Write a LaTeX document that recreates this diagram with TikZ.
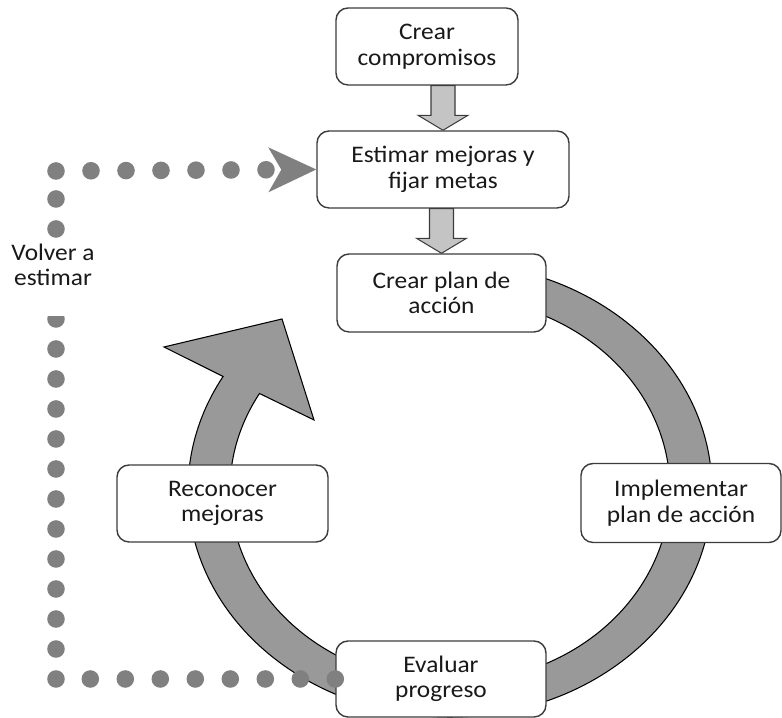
\documentclass[tikz,border=0pt]{standalone}
\usepackage{fontspec}
\setmainfont{Carlito}[FakeStretch=1.07]
\usetikzlibrary{calc,arrows.meta}
\definecolor{ringgray}{HTML}{999999}
\definecolor{blockgray}{HTML}{C4C4C4}
\definecolor{dotgray}{HTML}{808080}
\definecolor{edgegray}{HTML}{3C3C3C}
\tikzset{
  stepbox/.style={draw=edgegray, line width=0.8pt, rounded corners=0.24cm, fill=white,
    align=center, inner sep=2pt, text=black!90,
    font=\fontsize{13.5pt}{14.5pt}\selectfont},
  ring/.style={fill=ringgray, draw=black, line width=0.6pt, line join=miter},
  blockarrow/.style={fill=blockgray, draw=edgegray, line width=0.6pt},
  dotline/.style={dotgray, line width=10pt, line cap=round},
}
\begin{document}
\begin{tikzpicture}[>=stealth, scale=1.0]
    \useasboundingbox (0,0) rectangle (15.64,14.36);
    % ring arrow behind the boxes
    \coordinate (hub) at (9,4.56);
    \draw[ring] ($(hub)+(90:5.24 and 4.54)$) arc[start angle=90, end angle=-210, x radius=5.24, y radius=4.54]
        -- (3.28,7.42) -- (5.64,7.98) -- (6.28,5.96)
        -- ($(hub)+(150:4.40 and 3.86)$) arc[start angle=-210, end angle=90, x radius=4.40, y radius=3.86] -- cycle;
    % boxes
    \node[stepbox, minimum width=3.64cm, minimum height=1.54cm] (comp) at (8.54,13.43) {Crear\\compromisos};
    \node[stepbox, minimum width=5.04cm, minimum height=1.54cm] (esti) at (8.86,10.97) {Estimar mejoras y\\fijar metas};
    \node[stepbox, minimum width=4.18cm, minimum height=1.56cm] (plan) at (8.83,8.50) {Crear plan de\\acción};
    \node[stepbox, minimum width=4.00cm, minimum height=1.58cm] (impl) at (13.62,4.30) {Implementar\\plan de acción};
    \node[stepbox, minimum width=4.22cm, minimum height=1.54cm] (reco) at (4.45,4.29) {Reconocer\\mejoras};
    \node[stepbox, minimum width=4.20cm, minimum height=1.52cm] (eval) at (8.82,0.78) {Evaluar\\progreso};
    % block arrows down
    \foreach \a/\b in {comp/esti, esti/plan}
        {
            \draw[blockarrow] ($(\a.south -| \b.north)+(-0.24,0)$) -- ($(\b.north)+(-0.24,0.3)$)
                -- ($(\b.north)+(-0.5,0.3)$) -- (\b.north) -- ($(\b.north)+(0.5,0.3)$)
                -- ($(\b.north)+(0.24,0.3)$) -- ($(\a.south -| \b.north)+(0.24,0)$) -- cycle;
        }
    % dotted return path
    \coordinate (ctl) at (1.12,10.94);
    \draw[dotline, dash pattern=on 0pt off 0.7cm] (eval.west) -- (eval.west -| ctl);
    \draw[dotline, dash pattern=on 0pt off 0.6cm] (eval.west -| ctl) -- (ctl);
    \draw[dotline, dash pattern=on 0pt off 0.7cm, -{Stealth[length=0.96cm, width=0.9cm, inset=0.26cm, line width=0pt]}] (ctl) -- (esti.west);
    \node[fill=white, align=center, anchor=north, inner xsep=1pt, inner ysep=3pt, text depth=0.51cm,
        text=black!90, font=\fontsize{13.5pt}{14.5pt}\selectfont] (back) at (1.06,9.60) {Volver a\\estimar};
\end{tikzpicture}
\end{document}
